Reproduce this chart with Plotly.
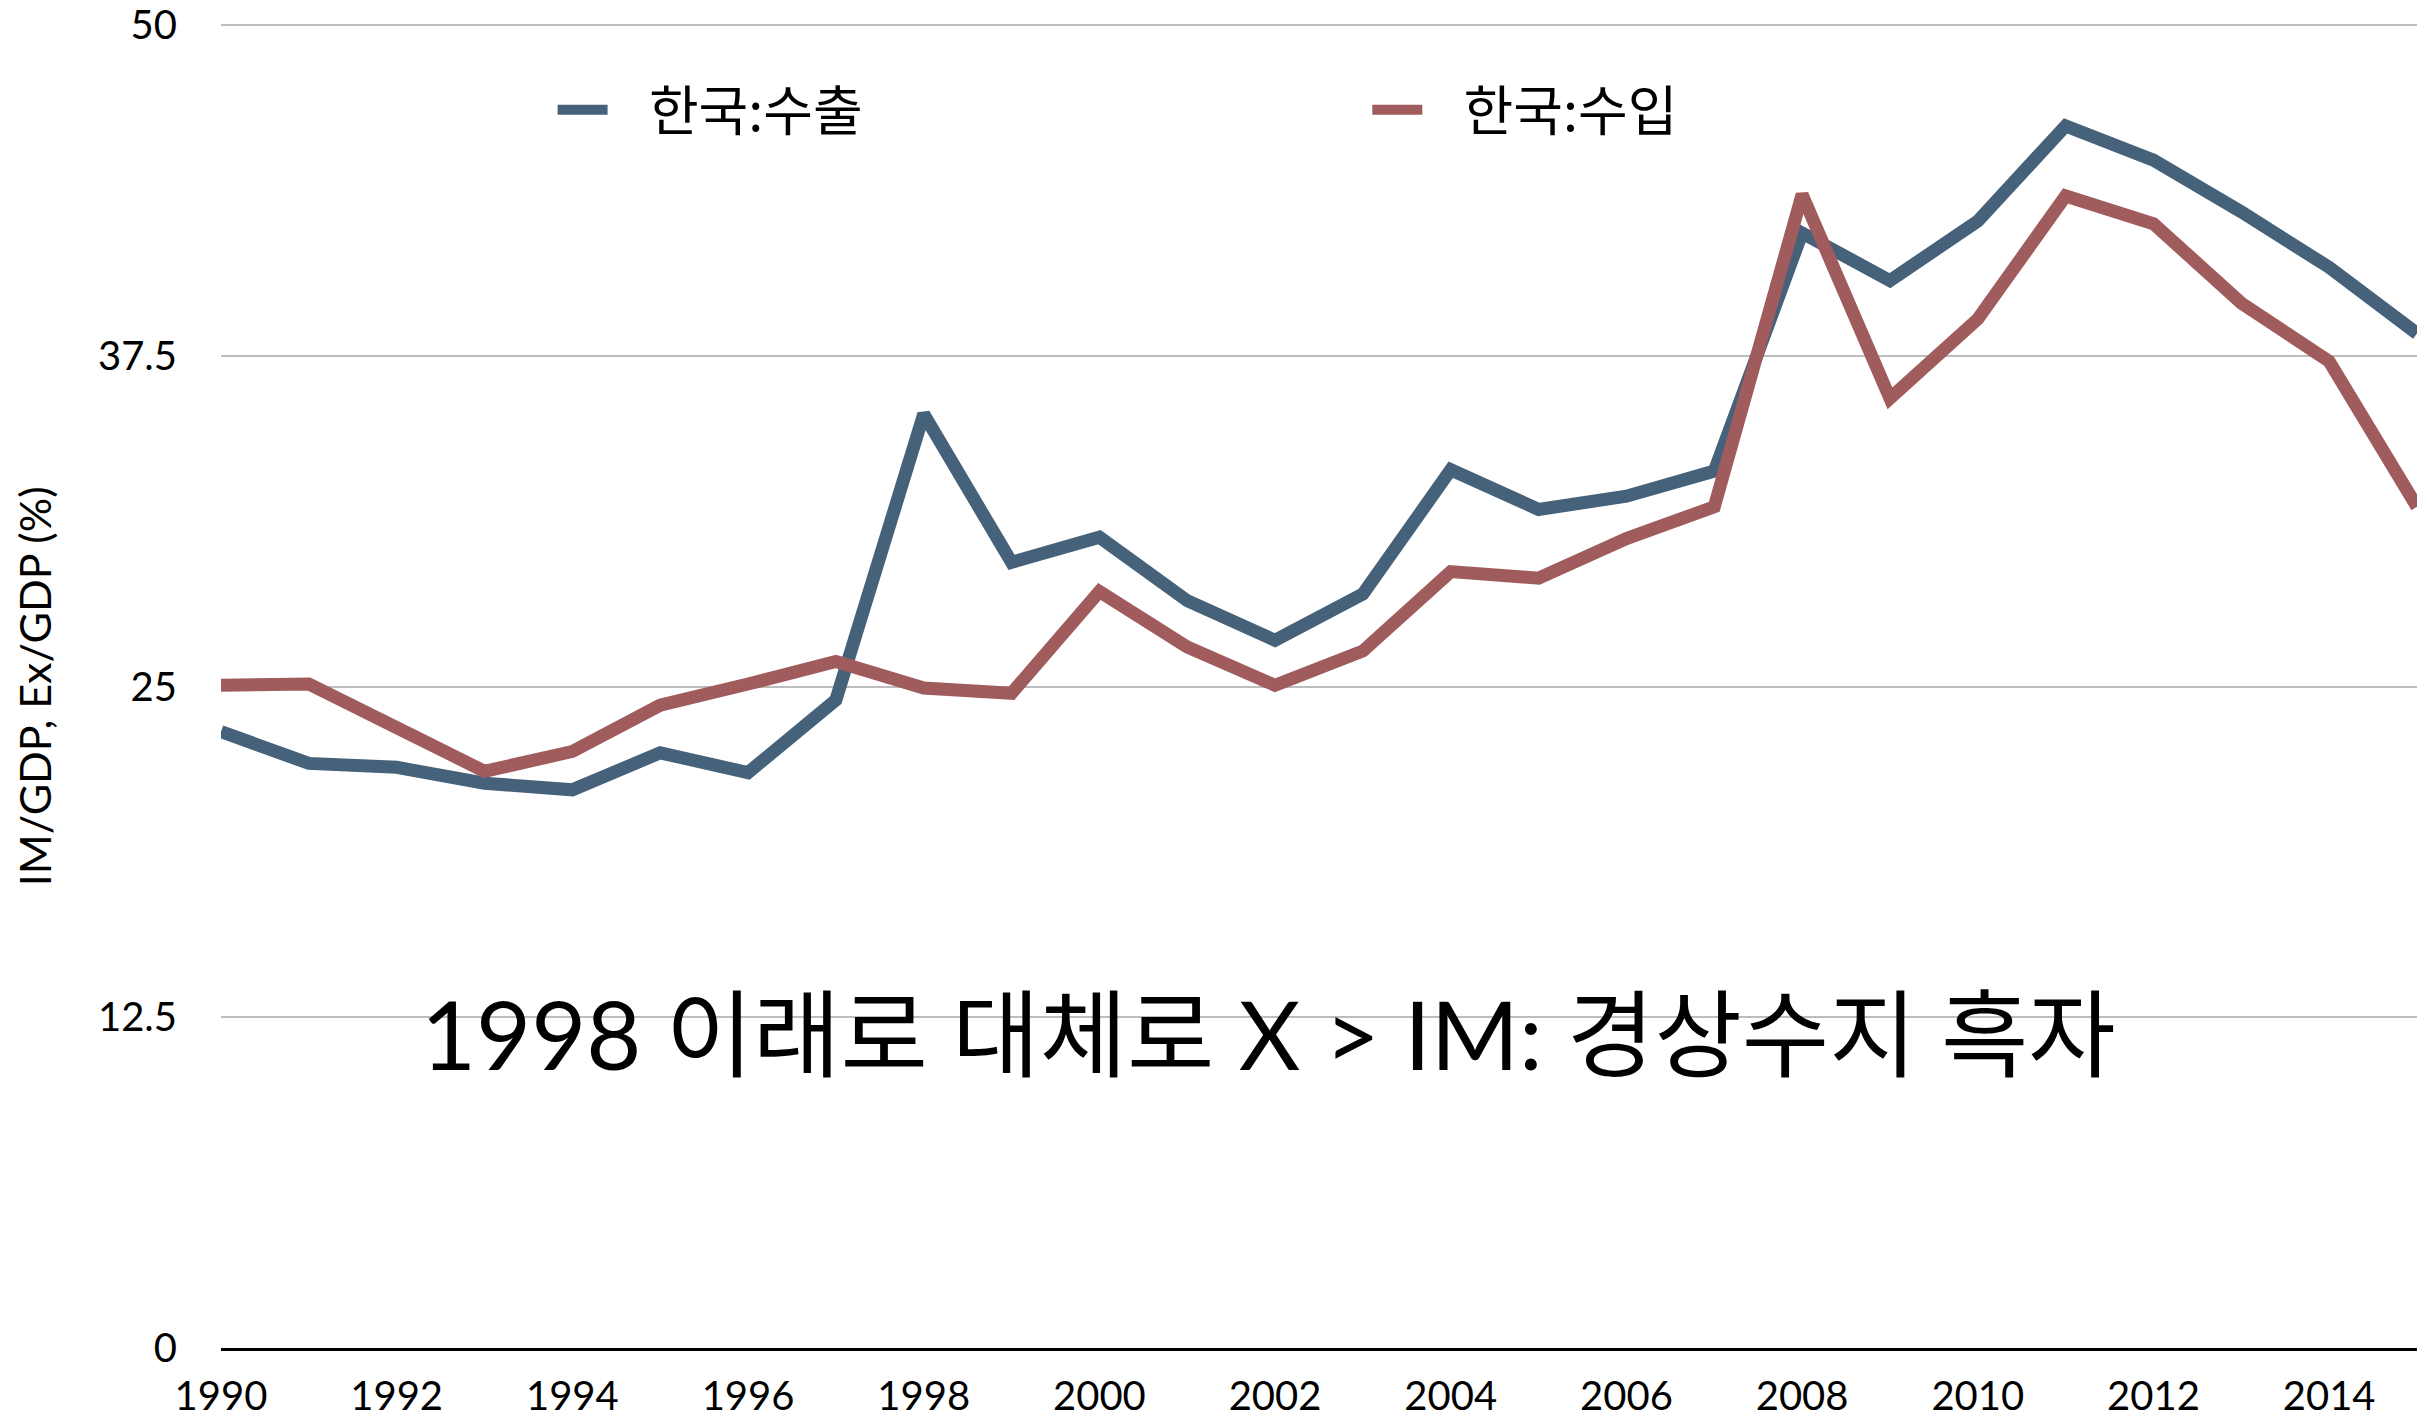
import plotly.graph_objects as go

years = list(range(1990, 2016))
exports = [23.3, 22.1, 21.95, 21.35, 21.1, 22.5, 21.75, 24.5, 35.3, 29.7, 30.65, 28.25,
           26.75, 28.5, 33.2, 31.7, 32.2, 33.15, 42.15, 40.35, 42.6, 46.2, 44.9, 42.95,
           40.85, 38.35]
imports = [25.05, 25.1, 23.45, 21.8, 22.55, 24.3, 25.1, 25.95, 24.95, 24.75, 28.6, 26.5,
           25.05, 26.35, 29.35, 29.1, 30.6, 31.8, 43.6, 35.9, 38.9, 43.55, 42.5, 39.5,
           37.3, 31.8]
series_names = ["한국:수출", "한국:수입"]
y_ticks = [0, 12.5, 25, 37.5, 50]
y_tick_labels = ["0", "12.5", "25", "37.5", "50"]
annotation_text = "1998 이래로 대체로 X > IM: 경상수지 흑자"
y_title = "IM/GDP, Ex/GDP (%)"

BLUE = "#46617A"
RED = "#A05C5C"
LATIN = "Lato, 'Noto Sans CJK KR', sans-serif"
KR = "'Noto Sans CJK KR', Lato, sans-serif"
PAD = "\u00a0\u00a0\u00a0"

fig = go.Figure()
fig.add_trace(go.Scatter(x=years, y=exports, mode="lines", name=PAD + series_names[0],
                         line=dict(color=BLUE, width=13), legend="legend", showlegend=True))
fig.add_trace(go.Scatter(x=years, y=imports, mode="lines", name=PAD + series_names[1],
                         line=dict(color=RED, width=13), legend="legend2", showlegend=True))

legend_common = dict(orientation="h", yanchor="middle", xanchor="left",
                     font=dict(family=KR, size=54, color="black"),
                     bgcolor="rgba(0,0,0,0)", itemwidth=50, visible=True)

# page body has an 8px margin, so the figure is 8px smaller than the window
fig.update_layout(
    width=2419, height=1411,
    margin=dict(l=213, r=10, t=16, b=71, autoexpand=False),
    paper_bgcolor="white", plot_bgcolor="white",
    showlegend=True,
    legend=dict(x=0.151, y=0.935, **legend_common),
    legend2=dict(x=0.522, y=0.935, **legend_common),
    xaxis=dict(range=[1990, 2015], tickmode="array", tickvals=list(range(1990, 2015, 2)),
               ticktext=[str(y) for y in range(1990, 2015, 2)], automargin=False,
               showgrid=False, zeroline=False, showline=True, linecolor="black",
               linewidth=3, ticks="", tickfont=dict(family=LATIN, size=40, color="black"),
               ticklabelstandoff=11, ticklabeloverflow="allow"),
    yaxis=dict(range=[0, 50.05], tickmode="array", tickvals=y_ticks, ticktext=y_tick_labels,
               automargin=False, ticklabeloverflow="allow",
               showgrid=True, gridcolor="#BDBDBD", gridwidth=2, zeroline=False,
               showline=False, ticks="", tickfont=dict(family=LATIN, size=40, color="black"),
               ticklabelstandoff=43),
    annotations=[
        dict(text=annotation_text, x=2001.92, y=11.9, xref="x", yref="y",
             showarrow=False, font=dict(family=LATIN, size=95, color="black"),
             xanchor="center", yanchor="middle"),
        dict(text=y_title, x=-0.085, y=0.5, xref="paper", yref="paper",
             showarrow=False, textangle=-90, font=dict(family=LATIN, size=43, color="black"),
             xanchor="center", yanchor="middle"),
    ],
)

fig.write_html("out.html")
